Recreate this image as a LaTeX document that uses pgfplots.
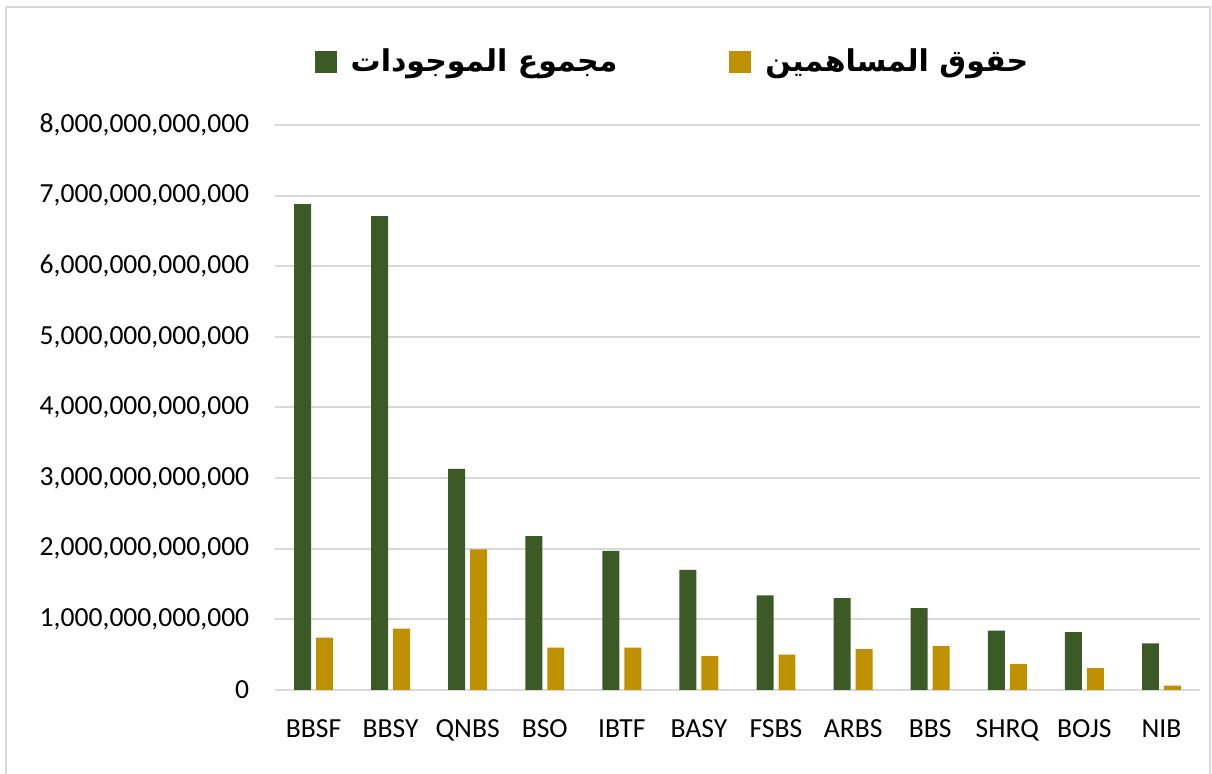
\documentclass[border=0pt]{standalone}
\usepackage{fontspec}
\setmainfont{Carlito}
\newfontfamily\arabicfont[Script=Arabic]{DejaVu Sans}
\TeXXeTstate=1
\usepackage{pgfplots}
\pgfplotsset{compat=1.18}
\definecolor{assets}{HTML}{3B5A25}
\definecolor{equity}{HTML}{BF9000}
\definecolor{gridc}{HTML}{D9D9D9}

% bank, total assets, shareholders' equity
\pgfplotstableread{
x bank assets equity
0  BBSF 6880000000000 740000000000
1  BBSY 6710000000000 870000000000
2  QNBS 3130000000000 1990000000000
3  BSO  2180000000000 600000000000
4  IBTF 1970000000000 600000000000
5  BASY 1700000000000 480000000000
6  FSBS 1340000000000 500000000000
7  ARBS 1300000000000 580000000000
8  BBS  1160000000000 620000000000
9  SHRQ 840000000000  370000000000
10 BOJS 820000000000  310000000000
11 NIB  660000000000  60000000000
}\banks

\begin{document}
\begin{tikzpicture}
\useasboundingbox (0,0) rectangle (606pt,387pt);
\draw[gridc, line width=1pt] (3pt,-5pt) -- (3pt,383.5pt) -- (605pt,383.5pt) -- (605pt,-5pt);
\begin{axis}[
  at={(137.5pt,42pt)}, anchor=south west,
  scale only axis, width=462.5pt, height=282.5pt,
  ybar=2.5pt, bar width=0.22,
  xmin=-0.5, xmax=11.5, ymin=0, ymax=8e12,
  xtick={0,...,11},
  xticklabels from table={\banks}{bank},
  ytick={0,1e12,2e12,3e12,4e12,5e12,6e12,7e12,8e12},
  scaled y ticks=false,
  yticklabel style={/pgf/number format/fixed, /pgf/number format/precision=0,
    /pgf/number format/1000 sep={,}, /pgf/number format/assume math mode=true},
  ymajorgrids, major grid style={gridc, line width=1pt},
  axis line style={draw=none},
  major tick length=0pt,
  tick label style={font=\fontsize{13.8}{16}\selectfont},
  yticklabel style={xshift=-9.4pt},
  xticklabel style={yshift=-11.5pt},
  legend columns=2,
  legend image code/.code={\path[#1,draw=none] (0pt,-5.5pt) rectangle (11pt,5.5pt);},
  legend style={draw=none, at={(0.5,1)}, anchor=center, xshift=-32pt, yshift=31.5pt,
    font=\arabicfont\bfseries\fontsize{15}{18}\selectfont,
    /tikz/every odd column/.append style={column sep=5pt},
    /tikz/every even column/.append style={column sep=54pt}},
]
\addplot[fill=assets, draw=none] table[x=x, y=assets] {\banks};
\addlegendentry{\beginR مجموع الموجودات\endR}
\addplot[fill=equity, draw=none] table[x=x, y=equity] {\banks};
\addlegendentry{\beginR حقوق المساهمين\endR}
\end{axis}
\end{tikzpicture}
\end{document}
